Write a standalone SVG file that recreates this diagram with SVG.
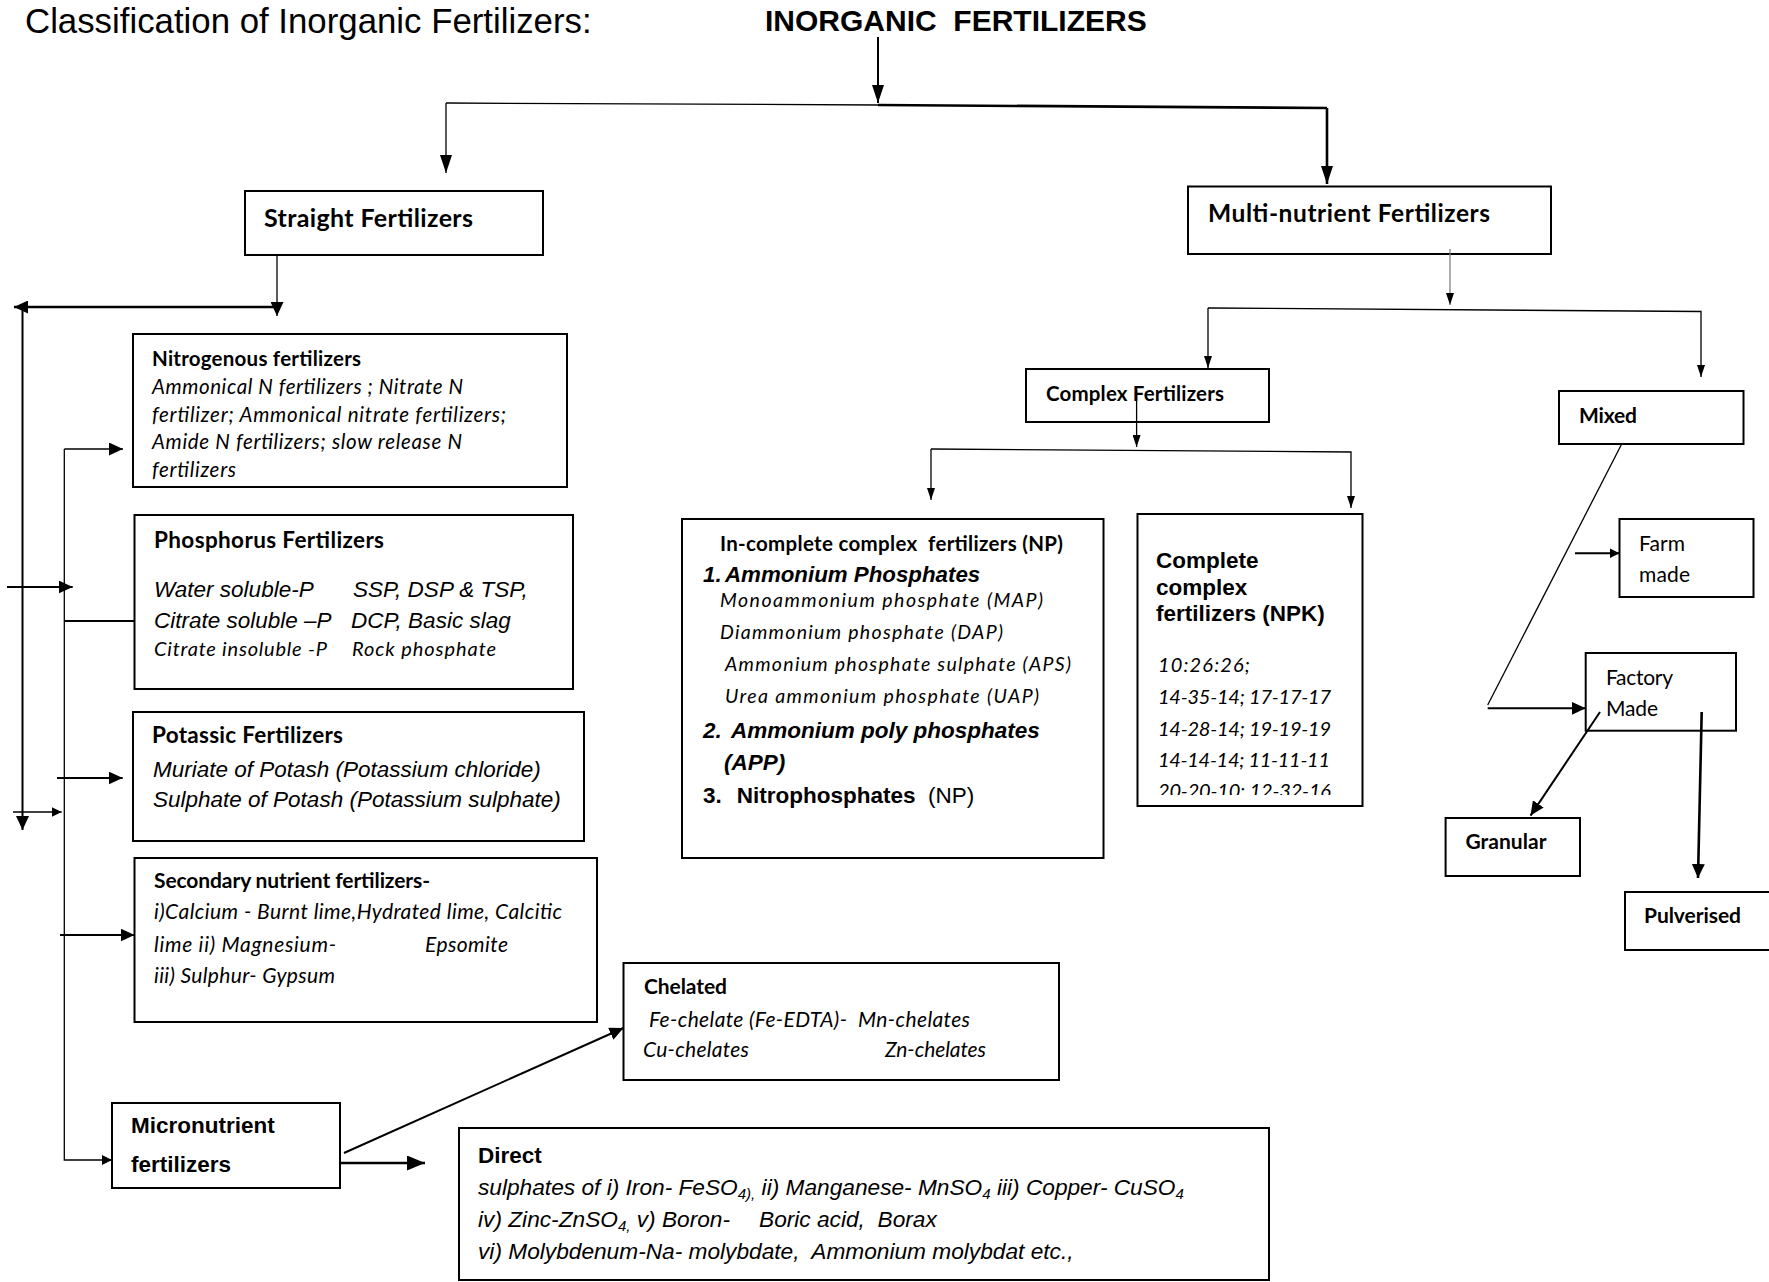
<svg xmlns="http://www.w3.org/2000/svg" width="1769" height="1282" viewBox="0 0 1769 1282">
<style>
text{fill:#000;white-space:pre}
.a{font-family:"Liberation Sans",Arial,sans-serif}
.c{font-family:Lato,"Open Sans",sans-serif}
.b{font-weight:bold}
.i{font-style:italic}
.box{fill:#fff;stroke:#000;stroke-width:2}
.ln{fill:none;stroke:#000;stroke-width:2}
.th{fill:none;stroke:#000;stroke-width:1.3}
.tk{fill:none;stroke:#000;stroke-width:2.6}
.gr{fill:none;stroke:#777;stroke-width:1.2}
</style>
<defs>
<marker id="aL" markerUnits="userSpaceOnUse" markerWidth="18" markerHeight="12" refX="18" refY="6" orient="auto"><path d="M0,0L18,6L0,12z"/></marker>
<marker id="aM" markerUnits="userSpaceOnUse" markerWidth="14" markerHeight="13" refX="14" refY="6.5" orient="auto"><path d="M0,0L14,6.5L0,13z"/></marker>
<marker id="aS" markerUnits="userSpaceOnUse" markerWidth="10" markerHeight="10" refX="10" refY="5" orient="auto"><path d="M0,0L10,5L0,10z"/></marker>
<marker id="aT" markerUnits="userSpaceOnUse" markerWidth="12" markerHeight="8" refX="12" refY="4" orient="auto"><path d="M0,0L12,4L0,8z"/></marker>
<marker id="aB" markerUnits="userSpaceOnUse" markerWidth="18" markerHeight="15" refX="18" refY="7.5" orient="auto"><path d="M0,0L18,7.5L0,15z"/></marker>
<clipPath id="clipNpk"><rect x="1140" y="520" width="220" height="275"/></clipPath>
</defs>

<g id="title">
<text class="a" font-size="34.8" x="25" y="33">Classification of Inorganic Fertilizers:</text>
</g>
<g id="inorganic">
<text class="a b" font-size="30" x="765" y="31">INORGANIC  FERTILIZERS</text>
</g>

<g id="straight">
<rect class="box" x="245" y="191" width="298" height="64"/>
<text class="c b" font-size="25" x="264" y="227" textLength="209">Straight Fertilizers</text>
</g>

<g id="multi">
<rect class="box" x="1188" y="186.5" width="363" height="67.5"/>
<text class="c b" font-size="24.5" x="1208" y="222" textLength="282">Multi-nutrient Fertilizers</text>
</g>

<g id="nitrogenous">
<rect class="box" x="133" y="334" width="434" height="153"/>
<text class="c b" font-size="20.5" x="152" y="366" textLength="209">Nitrogenous fertilizers</text>
<text class="c i" font-size="20.5" x="152" y="394" textLength="311">Ammonical N fertilizers ; Nitrate N</text>
<text class="c i" font-size="20.5" x="152" y="422" textLength="354">fertilizer; Ammonical nitrate fertilizers;</text>
<text class="c i" font-size="20.5" x="152" y="449" textLength="310">Amide N fertilizers; slow release N</text>
<text class="c i" font-size="20.5" x="152" y="477" textLength="84">fertilizers</text>
</g>

<g id="phosphorus">
<rect class="box" x="134.5" y="515" width="438.5" height="174"/>
<text class="c b" font-size="22.5" x="154" y="548" textLength="230">Phosphorus Fertilizers</text>
<text class="a i" font-size="22.5" x="154" y="597">Water soluble-P</text>
<text class="a i" font-size="22.5" x="353" y="597">SSP, DSP &amp; TSP,</text>
<text class="a i" font-size="22.5" x="154" y="628">Citrate soluble –P</text>
<text class="a i" font-size="22.5" x="351" y="628">DCP, Basic slag</text>
<text class="c i" font-size="20" x="154" y="656" textLength="173">Citrate insoluble -P</text>
<text class="c i" font-size="20" x="352" y="656" textLength="144">Rock phosphate</text>
</g>

<g id="potassic">
<rect class="box" x="133" y="712" width="451" height="129"/>
<text class="c b" font-size="22.5" x="152" y="743" textLength="191">Potassic Fertilizers</text>
<text class="a i" font-size="22.5" x="153" y="777">Muriate of Potash (Potassium chloride)</text>
<text class="a i" font-size="22.5" x="153" y="807">Sulphate of Potash (Potassium sulphate)</text>
</g>

<g id="secondary">
<rect class="box" x="134.5" y="858" width="462.5" height="164"/>
<text class="c b" font-size="21" x="154" y="888" textLength="276">Secondary nutrient fertilizers-</text>
<text class="c i" font-size="21" x="154" y="919" textLength="408">i)Calcium - Burnt lime,Hydrated lime, Calcitic</text>
<text class="c i" font-size="21" x="154" y="952" textLength="182">lime ii) Magnesium-</text>
<text class="c i" font-size="21" x="425" y="952" textLength="83">Epsomite</text>
<text class="c i" font-size="21" x="154" y="983" textLength="181">iii) Sulphur- Gypsum</text>
</g>

<g id="micronutrient">
<rect class="box" x="112" y="1103" width="228" height="85"/>
<text class="a b" font-size="22.5" x="131" y="1133">Micronutrient</text>
<text class="a b" font-size="22.5" x="131" y="1172">fertilizers</text>
</g>

<g id="chelated">
<rect class="box" x="623.5" y="963" width="435.5" height="117"/>
<text class="c b" font-size="21" x="644" y="994" textLength="83">Chelated</text>
<text class="c i" font-size="21" x="649" y="1027" textLength="321">Fe-chelate (Fe-EDTA)-  Mn-chelates</text>
<text class="c i" font-size="21" x="643" y="1057" textLength="106">Cu-chelates</text>
<text class="c i" font-size="21" x="885" y="1057" textLength="101">Zn-chelates</text>
</g>

<g id="direct">
<rect class="box" x="459" y="1128" width="810" height="152"/>
<text class="a b" font-size="22.5" x="478" y="1163">Direct</text>
<text class="a i" font-size="22.7" x="478" y="1195">sulphates of i) Iron- FeSO<tspan font-size="15" dy="4">4),</tspan><tspan dy="-4"> ii) Manganese- MnSO</tspan><tspan font-size="15" dy="4">4</tspan><tspan dy="-4"> iii) Copper- CuSO</tspan><tspan font-size="15" dy="4">4</tspan></text>
<text class="a i" font-size="22.7" x="478" y="1227">iv) Zinc-ZnSO<tspan font-size="15" dy="4">4,</tspan><tspan dy="-4"> v) Boron-</tspan><tspan x="759">Boric acid,  Borax</tspan></text>
<text class="a i" font-size="22.7" x="478" y="1259">vi) Molybdenum-Na- molybdate,  Ammonium molybdat etc.,</text>
</g>

<g id="complex">
<rect class="box" x="1026" y="369" width="243" height="53"/>
<text class="c b" font-size="20.5" x="1046" y="401" textLength="178">Complex Fertilizers</text>
</g>

<g id="incomplete">
<rect class="box" x="682" y="519" width="421.5" height="339"/>
<text class="c b" font-size="20.5" x="720" y="551" textLength="343">In-complete complex  fertilizers (NP)</text>
<text class="a b i" font-size="22.3" x="703" y="582">1.<tspan x="725">Ammonium Phosphates</tspan></text>
<text class="c i" font-size="19.5" x="720" y="607" textLength="323">Monoammonium phosphate (MAP)</text>
<text class="c i" font-size="19.5" x="720" y="639" textLength="283">Diammonium phosphate (DAP)</text>
<text class="c i" font-size="19.5" x="725" y="671" textLength="346">Ammonium phosphate sulphate (APS)</text>
<text class="c i" font-size="19.5" x="725" y="703" textLength="314">Urea ammonium phosphate (UAP)</text>
<text class="a b i" font-size="22.5" x="703" y="738">2.<tspan x="731">Ammonium poly phosphates</tspan></text>
<text class="a b i" font-size="22.5" x="724" y="770">(APP)</text>
<text class="a b" font-size="22.5" x="703" y="803">3.<tspan x="736.7">Nitrophosphates</tspan><tspan x="928" font-weight="normal">(NP)</tspan></text>
</g>

<g id="complete">
<rect class="box" x="1137.5" y="514" width="225" height="292"/>
<text class="a b" font-size="22.5" x="1156" y="568">Complete</text>
<text class="a b" font-size="22.5" x="1156" y="595">complex</text>
<text class="a b" font-size="22.5" x="1156" y="621">fertilizers (NPK)</text>
<text class="c i" font-size="20" x="1158" y="672" textLength="92">10:26:26;</text>
<text class="c i" font-size="20" x="1158" y="704" textLength="173">14-35-14; 17-17-17</text>
<text class="c i" font-size="20" x="1158" y="736" textLength="173">14-28-14; 19-19-19</text>
<text class="c i" font-size="20" x="1158" y="767" textLength="172">14-14-14; 11-11-11</text>
<text class="c i" font-size="20" x="1158" y="798" textLength="173" clip-path="url(#clipNpk)">20-20-10; 12-32-16</text>
</g>

<g id="mixed">
<rect class="box" x="1559" y="391" width="184.5" height="53"/>
<text class="c b" font-size="21" x="1579" y="423" textLength="58">Mixed</text>
</g>

<g id="farm">
<rect class="box" x="1619.5" y="519" width="134" height="78"/>
<text class="c" font-size="21" x="1639" y="551" textLength="46">Farm</text>
<text class="c" font-size="21" x="1639" y="582" textLength="51">made</text>
</g>

<g id="factory">
<rect class="box" x="1585.7" y="653" width="150.3" height="77.7"/>
<text class="c" font-size="21" x="1606" y="685" textLength="67">Factory</text>
<text class="c" font-size="21" x="1606" y="716" textLength="52">Made</text>
</g>

<g id="granular">
<rect class="box" x="1445.6" y="818" width="134.4" height="58"/>
<text class="c b" font-size="21" x="1465.5" y="849" textLength="81">Granular</text>
</g>

<g id="pulverised">
<rect class="box" x="1625" y="892" width="160" height="58"/>
<text class="c b" font-size="21" x="1644" y="923" textLength="97">Pulverised</text>
</g>

<g id="connectors">
<path class="ln" d="M878,37V103" marker-end="url(#aL)"/>
<path class="th" d="M446,103L878,105"/>
<path class="tk" d="M878,105L1327,108"/>
<path class="th" d="M446,103V173" marker-end="url(#aL)"/>
<path class="tk" d="M1327,108V184" marker-end="url(#aL)"/>

<path class="th" d="M277,255V316" marker-end="url(#aM)"/>
<path class="tk" d="M277,307H14" marker-end="url(#aM)"/>
<path class="ln" d="M22.5,306V830" marker-end="url(#aM)"/>
<path class="th" d="M64.3,449V1160H112" marker-end="url(#aS)"/>
<path class="th" d="M64.3,449H123" marker-end="url(#aM)"/>
<path class="ln" d="M7,587H72.7" marker-end="url(#aM)"/>
<path class="ln" d="M64.3,621H134.5"/>
<path class="ln" d="M57,778H122.7" marker-end="url(#aM)"/>
<path class="th" d="M13,812H61.7" marker-end="url(#aS)"/>
<path class="ln" d="M60,935H134.5" marker-end="url(#aM)"/>

<path class="ln" d="M344,1153L623.5,1028" marker-end="url(#aM)"/>
<path class="tk" d="M340,1163H425" marker-end="url(#aB)"/>

<path class="gr" d="M1450,249V305" marker-end="url(#aT)"/>
<path class="th" d="M1208,308L1701,311.5V377" marker-end="url(#aT)"/>
<path class="th" d="M1208,308V368" marker-end="url(#aT)"/>
<path class="th" d="M1136.6,390V447" marker-end="url(#aT)"/>
<path class="th" d="M931,449L1351,452V508" marker-end="url(#aT)"/>
<path class="th" d="M931,449V500" marker-end="url(#aT)"/>

<path class="th" d="M1621.7,444L1487.7,705"/>
<path class="ln" d="M1487.7,708.3H1585.7" marker-end="url(#aM)"/>
<path class="ln" d="M1575,553.3H1619.5" marker-end="url(#aS)"/>
<path class="ln" d="M1600,712L1530.5,815.6" marker-end="url(#aM)"/>
<path class="tk" d="M1701.7,712L1698,878" marker-end="url(#aM)"/>
</g>
</svg>
